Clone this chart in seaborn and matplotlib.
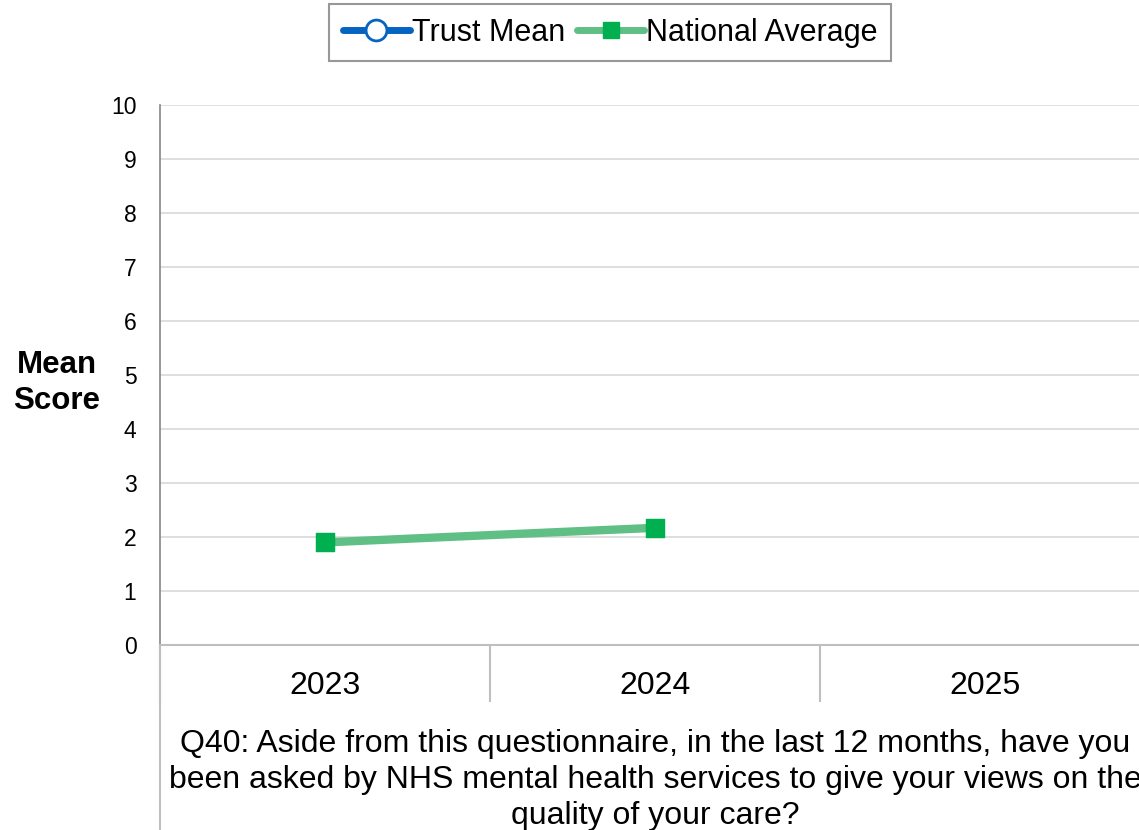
import matplotlib.pyplot as plt
import seaborn as sns
import pandas as pd
from matplotlib.lines import Line2D

sns.set_theme(style="white")
plt.rcParams["font.family"] = ["Liberation Sans", "DejaVu Sans"]
plt.rcParams["text.color"] = "black"

years = ["2023", "2024", "2025"]
trust_mean = [None, None, None]
national_avg = [1.90, 2.17, None]
question = ("Q40: Aside from this questionnaire, in the last 12 months, have you\n"
            "been asked by NHS mental health services to give your views on the\n"
            "quality of your care?")

TRUST_COLOR = "#0563C1"
NAT_LINE = "#5FBF84"
NAT_MARKER = "#00B050"
GRID = "#D9D9D9"
SEP = "#BFBFBF"

df = pd.DataFrame({"pos": range(len(years)), "year": years,
                   "trust": trust_mean, "national": national_avg})

W, H = 1139, 830
fig = plt.figure(figsize=(W / 100, H / 100), dpi=100)
ax = fig.add_axes([160 / W, (H - 645) / H, 990 / W, 540 / H])

nat = df.dropna(subset=["national"])
sns.lineplot(data=nat, x="pos", y="national", ax=ax, color=NAT_LINE,
             linewidth=6, zorder=3)
sns.scatterplot(data=nat, x="pos", y="national", ax=ax, marker="s",
                color=NAT_MARKER, s=170, edgecolor=NAT_MARKER, zorder=4)

ax.set_xlim(-0.5, len(years) - 0.5)
ax.set_ylim(0, 10)
ax.set_yticks(range(0, 11))
ax.tick_params(axis="y", length=0, labelsize=16.5, pad=17, colors="black")
ax.grid(axis="y", color=GRID, linewidth=1.2)
ax.set_axisbelow(True)

# category separators as major ticks, labels on minor ticks
ax.set_xticks([i - 0.5 for i in range(len(years) + 1)])
ax.set_xticklabels([])
ax.set_xticks(range(len(years)), minor=True)
ax.set_xticklabels(years, minor=True)
ax.tick_params(axis="x", which="major", bottom=True, length=41, width=1.5,
               color=SEP, direction="out")
ax.tick_params(axis="x", which="minor", bottom=True, length=0, labelsize=23,
               pad=19, labelcolor="black")

for s in ["top", "right"]:
    ax.spines[s].set_visible(False)
ax.spines["left"].set_color("#868686")
ax.spines["left"].set_linewidth(1.2)
ax.spines["bottom"].set_color(SEP)
ax.spines["bottom"].set_linewidth(1.5)

ax.set_xlabel("")
ax.set_ylabel("")
fig.add_artist(Line2D([160 / W, 160 / W], [0, (H - 645) / H],
                      color=SEP, linewidth=1.5, transform=fig.transFigure))

fig.text(57 / W, 1 - 383 / H, "Mean\nScore", ha="center", va="center",
         fontsize=22.5, fontweight="bold", linespacing=1.25)
fig.text(655 / W, 1 - 780 / H, question, ha="center", va="center",
         fontsize=23, linespacing=1.24)

handles = [
    Line2D([], [], color=TRUST_COLOR, linewidth=5, marker="o", markersize=15,
           markerfacecolor="white", markeredgecolor=TRUST_COLOR,
           markeredgewidth=2, label="Trust Mean"),
    Line2D([], [], color=NAT_LINE, linewidth=5, marker="s", markersize=12,
           markerfacecolor=NAT_MARKER, markeredgecolor=NAT_MARKER,
           label="National Average"),
]
leg = fig.legend(handles=handles, loc="upper center",
                 bbox_to_anchor=(610 / W, 1 - 4 / H), ncol=2, fontsize=22,
                 frameon=True, fancybox=False, handlelength=2.2,
                 handletextpad=0.05, columnspacing=0.4, borderpad=0.45,
                 borderaxespad=0)
leg.get_frame().set_edgecolor("#7F7F7F")
leg.get_frame().set_linewidth(1.5)

fig.savefig("out.png", dpi=100)
